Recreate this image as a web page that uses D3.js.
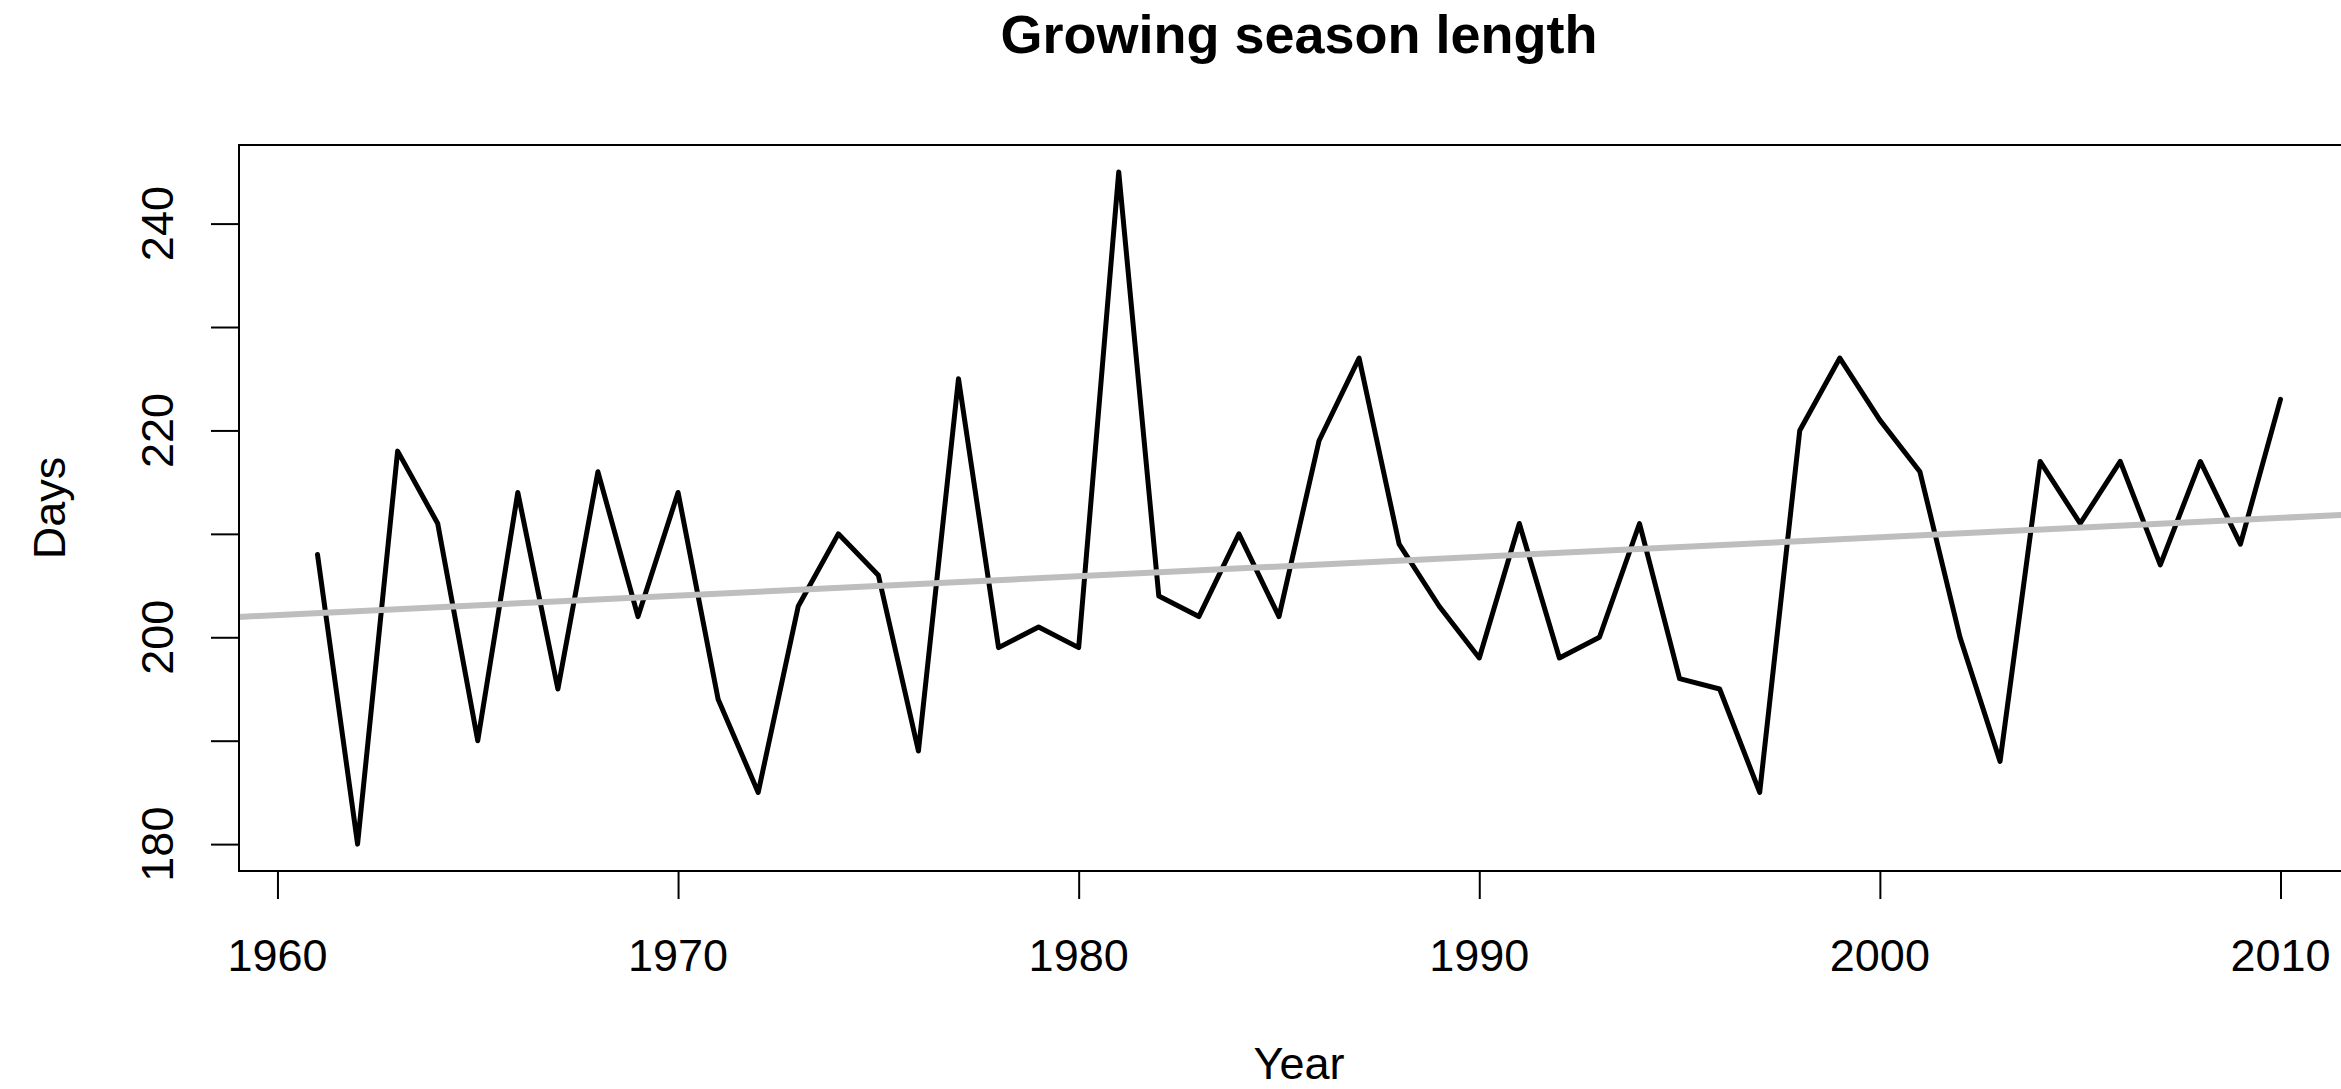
<!DOCTYPE html>
<html>
<head>
<meta charset="utf-8">
<script src="https://cdn.jsdelivr.net/npm/d3@7"></script>
<style>
  html, body { margin: 0; padding: 0; background: #ffffff; overflow: hidden; }
  svg { display: block; }
  text { font-family: "Liberation Sans", Arial, Helvetica, sans-serif; fill: #000; }
</style>
</head>
<body>
<script>
// ---- Data ----
const years = [1961,1962,1963,1964,1965,1966,1967,1968,1969,1970,
               1971,1972,1973,1974,1975,1976,1977,1978,1979,1980,
               1981,1982,1983,1984,1985,1986,1987,1988,1989,1990,
               1991,1992,1993,1994,1995,1996,1997,1998,1999,2000,
               2001,2002,2003,2004,2005,2006,2007,2008,2009,2010];
const days  = [208,180,218,211,190,214,195,216,202,214,
               194,185,203,210,206,189,225,199,201,199,
               245,204,202,210,202,219,227,209,203,198,
               211,198,200,211,196,195,185,220,227,221,
               216,200,188,217,211,217,207,217,209,223];
const xTicks = [1960,1970,1980,1990,2000,2010];
const yTicks = [180,190,200,210,220,230,240];
const yTickLabels = [180,200,220,240];
const titleText = "Growing season length";
const xLabel = "Year";
const yLabel = "Days";

// ---- Layout ----
const W = 2341, H = 1089;
const plot = { left: 239, right: 2359, top: 145, bottom: 871 };

const data = years.map((y, i) => ({ year: y, value: days[i] }));

// R-style 4% axis extension
const xExt = d3.extent(years), yExt = d3.extent(days);
const xPad = (xExt[1] - xExt[0]) * 0.04, yPad = (yExt[1] - yExt[0]) * 0.04;
const x = d3.scaleLinear().domain([xExt[0] - xPad, xExt[1] + xPad]).range([plot.left, plot.right]);
const y = d3.scaleLinear().domain([yExt[0] - yPad, yExt[1] + yPad]).range([plot.bottom, plot.top]);

// least-squares trend (abline of lm)
const mx = d3.mean(years), my = d3.mean(days);
const sxy = d3.sum(data, d => (d.year - mx) * (d.value - my));
const sxx = d3.sum(data, d => (d.year - mx) ** 2);
const slope = sxy / sxx, intercept = my - slope * mx;

const svg = d3.select("body").append("svg").attr("width", W).attr("height", H);

svg.append("defs").append("clipPath").attr("id", "clip")
  .append("rect")
  .attr("x", plot.left).attr("y", plot.top)
  .attr("width", plot.right - plot.left).attr("height", plot.bottom - plot.top);

const g = svg.append("g").attr("clip-path", "url(#clip)");

// data line
const line = d3.line().x(d => x(d.year)).y(d => y(d.value));
g.append("path")
  .datum(data)
  .attr("d", line)
  .attr("fill", "none")
  .attr("stroke", "#000")
  .attr("stroke-width", 5)
  .attr("stroke-linejoin", "round")
  .attr("stroke-linecap", "round");

// trend line
const [d0, d1] = x.domain();
g.append("line")
  .attr("x1", x(d0)).attr("y1", y(intercept + slope * d0))
  .attr("x2", x(d1)).attr("y2", y(intercept + slope * d1))
  .attr("stroke", "#BEBEBE")
  .attr("stroke-width", 6);

// box
svg.append("rect")
  .attr("x", plot.left).attr("y", plot.top)
  .attr("width", plot.right - plot.left).attr("height", plot.bottom - plot.top)
  .attr("fill", "none").attr("stroke", "#000").attr("stroke-width", 2);

// x axis
const xAxis = d3.axisBottom(x).tickValues(xTicks).tickSize(28).tickFormat("");
const xg = svg.append("g").attr("transform", `translate(0,${plot.bottom})`).call(xAxis);
xg.select(".domain").remove();
xg.selectAll(".tick line").attr("stroke", "#000").attr("stroke-width", 2);
svg.selectAll(".xlab").data(xTicks).enter().append("text")
  .attr("x", d => x(d)).attr("y", 971)
  .attr("text-anchor", "middle").attr("font-size", 45)
  .text(d => d);

// y axis
const yAxis = d3.axisLeft(y).tickValues(yTicks).tickSize(28).tickFormat("");
const yg = svg.append("g").attr("transform", `translate(${plot.left},0)`).call(yAxis);
yg.select(".domain").remove();
yg.selectAll(".tick line").attr("stroke", "#000").attr("stroke-width", 2);
svg.selectAll(".ylab").data(yTickLabels).enter().append("text")
  .attr("transform", d => `translate(173,${y(d)}) rotate(-90)`)
  .attr("text-anchor", "middle").attr("font-size", 45)
  .text(d => d);

// titles
const cx = (plot.left + plot.right) / 2;
svg.append("text").attr("x", cx).attr("y", 53)
  .attr("text-anchor", "middle").attr("font-size", 54).attr("font-weight", "bold")
  .text(titleText);
svg.append("text").attr("x", cx).attr("y", 1079)
  .attr("text-anchor", "middle").attr("font-size", 45)
  .text(xLabel);
svg.append("text")
  .attr("transform", `translate(65,${(plot.top + plot.bottom) / 2}) rotate(-90)`)
  .attr("text-anchor", "middle").attr("font-size", 45)
  .text(yLabel);
</script>
</body>
</html>
